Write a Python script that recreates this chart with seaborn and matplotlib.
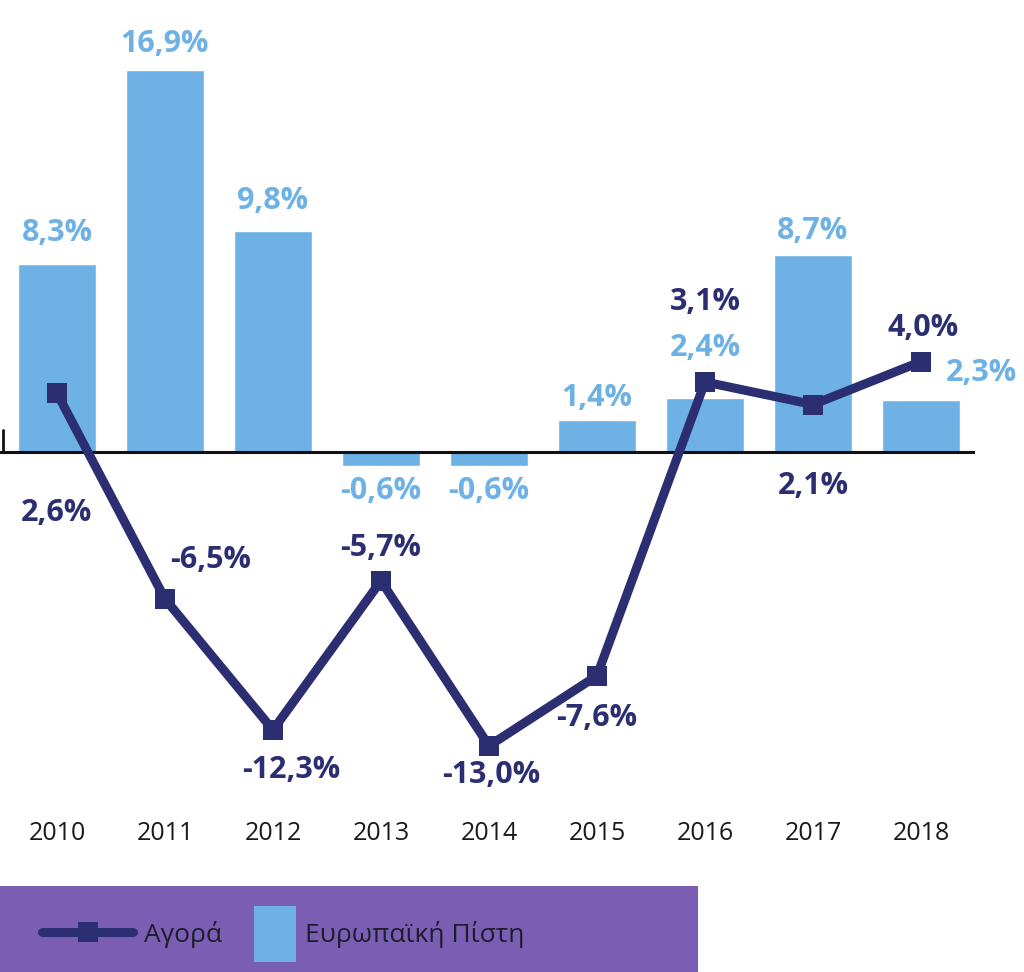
import matplotlib
matplotlib.use("Agg")
import matplotlib.pyplot as plt
import pandas as pd
import seaborn as sns
from matplotlib.lines import Line2D
from matplotlib.patches import Patch, Rectangle

# data
years = ["2010", "2011", "2012", "2013", "2014", "2015", "2016", "2017", "2018"]
pisti = [8.3, 16.9, 9.8, -0.6, -0.6, 1.4, 2.4, 8.7, 2.3]      # Ευρωπαϊκή Πίστη
agora = [2.6, -6.5, -12.3, -5.7, -13.0, -9.9, 3.1, 2.1, 4.0]  # Αγορά (plotted position)
agora_labels = ["2,6%", "-6,5%", "-12,3%", "-5,7%", "-13,0%", "-7,6%", "3,1%", "2,1%", "4,0%"]

# label offsets in pixels (dx, dy)
pisti_off = [(0, 31), (0, 26), (0, 30), (0, -25), (0, -25), (0, 22), (0, 50), (0, 24), (60, 27)]
agora_off = [(0, -120), (46, 39), (18, -40), (0, 33), (2, -29), (0, -42), (0, 80), (0, -81), (2, 34)]

bar_color = "#6DB1E5"
line_color = "#2B2F72"
legend_bg = "#7A5EB4"

df = pd.DataFrame({"year": years, "pos": range(len(years)), "pisti": pisti, "agora": agora})

sns.set_theme(style="white")
plt.rcParams["font.family"] = ["Open Sans", "DejaVu Sans"]

fig = plt.figure(figsize=(10.24, 9.72), dpi=100)
ax = fig.add_axes([0, 1 - 800 / 972, 975 / 1024, 770 / 972])

sns.barplot(data=df, x="year", y="pisti", color=bar_color, width=0.72,
            saturation=1, ax=ax, zorder=2)
sns.lineplot(data=df, x="pos", y="agora", color=line_color, linewidth=6.5,
             marker="s", markersize=14, markeredgewidth=0, ax=ax, zorder=4)

ax.set_xlim(-57 / 108, (975 - 57) / 108)
ax.set_ylim(-(800 - 452) / 22.6, (452 - 30) / 22.6)
ax.axhline(0, color="#111111", linewidth=2.2, zorder=3)
ax.plot([-54 / 108, -54 / 108], [0, 0.97], color="#111111", linewidth=2, zorder=3)

for s in ax.spines.values():
    s.set_visible(False)
ax.set_yticks([])
ax.set_xlabel("")
ax.set_ylabel("")
ax.set_xticks(range(len(years)))
ax.set_xticklabels(years, fontsize=18, color="#1A1A1A")
ax.tick_params(axis="x", length=0, pad=15)


def fmt(v):
    return f"{v:.1f}".replace(".", ",") + "%"


for i, (v, off) in enumerate(zip(pisti, pisti_off)):
    ax.annotate(fmt(v), (i, v), xytext=off, textcoords="offset pixels",
                ha="center", va="center", fontsize=22, fontweight="bold",
                color=bar_color, zorder=5)
for i, (v, lab, off) in enumerate(zip(agora, agora_labels, agora_off)):
    ax.annotate(lab, (i, v), xytext=off, textcoords="offset pixels",
                ha="center", va="center", fontsize=22, fontweight="bold",
                color=line_color, zorder=5)

# legend box
fig.add_artist(Rectangle((0, 0), 698 / 1024, 86 / 972, transform=fig.transFigure,
                         facecolor=legend_bg, edgecolor="none"))

fs = 19
line_handle = Line2D([], [], color=line_color, linewidth=6.5, marker="s",
                     markersize=14, markeredgewidth=0)
leg1 = fig.legend([line_handle], ["Αγορά"], loc="center left",
                  bbox_to_anchor=(42 / 1024, 38 / 972), frameon=False,
                  fontsize=fs, handlelength=3.45, numpoints=1, borderpad=0,
                  borderaxespad=0, handletextpad=0.4, labelcolor="#1E1E2A")
leg2 = fig.legend([Patch(facecolor=bar_color, edgecolor="none")], ["Ευρωπαϊκή Πίστη"],
                  loc="center left", bbox_to_anchor=(254 / 1024, 38 / 972), frameon=False,
                  fontsize=fs, handlelength=1.6, handleheight=2.86, borderpad=0,
                  borderaxespad=0, handletextpad=0.35, labelcolor="#1E1E2A")

fig.savefig("out.png", dpi=100)
